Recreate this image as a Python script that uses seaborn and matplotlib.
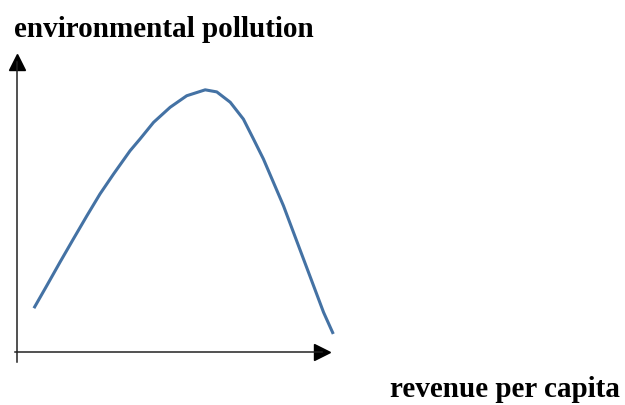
import matplotlib.pyplot as plt
import pandas as pd
import seaborn as sns

# Environmental Kuznets curve (arbitrary units)
revenue = [5.4, 9.5, 13.7, 18.0, 22.3, 26.5, 30.8, 36.1, 39.3, 43.6, 48.9, 54.2,
           60.1, 63.8, 68.1, 72.3, 75.5, 78.7, 81.9, 85.1, 88.3, 91.5, 94.7, 97.9, 101.0]
pollution = [14.8, 22.4, 30.3, 38.2, 46.0, 53.4, 60.1, 68.0, 72.0, 77.6, 82.7, 86.6,
             88.6, 87.9, 84.4, 78.7, 72.0, 65.2, 57.3, 49.4, 40.4, 31.4, 22.4, 13.4, 6.1]

X_LABEL = "revenue per capita"
Y_LABEL = "environmental pollution"

CURVE_COLOR = "#4472A4"
AXIS_COLOR = "#222222"


def plot_curve():
    ''' Draw the inverted-U curve with arrow-headed axes and no ticks. '''
    sns.set_style("white")
    plt.rcParams['font.family'] = ['Liberation Serif', 'DejaVu Serif']

    df = pd.DataFrame({"revenue": revenue, "pollution": pollution})

    fig = plt.figure(figsize=(6.25, 4.06), dpi=100)
    ax = fig.add_axes([0.0248, 0.1059, 0.4904, 0.7389])

    sns.lineplot(data=df, x="revenue", y="pollution", ax=ax, color=CURVE_COLOR,
                 linewidth=2.2, clip_on=False, solid_joinstyle='round',
                 solid_capstyle='butt')

    ax.set_xlim(-0.48, 97.4)
    ax.set_ylim(-3.38, 98.0)
    for side in ["top", "right"]:
        ax.spines[side].set_visible(False)
    for side in ["left", "bottom"]:
        ax.spines[side].set_position(("data", 0))
        ax.spines[side].set_color(AXIS_COLOR)
        ax.spines[side].set_linewidth(1.1)

    # arrow heads at the ends of the axes
    ax.plot(1, 0, ">", color="black", markersize=11,
            transform=ax.get_yaxis_transform(), clip_on=False)
    ax.plot(0, 1, "^", color="black", markersize=11,
            transform=ax.get_xaxis_transform(), clip_on=False)

    ax.set_xticks([])
    ax.set_yticks([])
    ax.set_xlabel("")
    ax.set_ylabel("")
    ax.patch.set_alpha(0)

    fig.text(0.0224, 0.908, Y_LABEL, fontsize=21, fontweight='bold',
             color='black', ha='left', va='baseline')
    fig.text(0.624, 0.022, X_LABEL, fontsize=21, fontweight='bold',
             color='black', ha='left', va='baseline')

    fig.savefig("out.png", dpi=100)


if __name__ == '__main__':
    plot_curve()
